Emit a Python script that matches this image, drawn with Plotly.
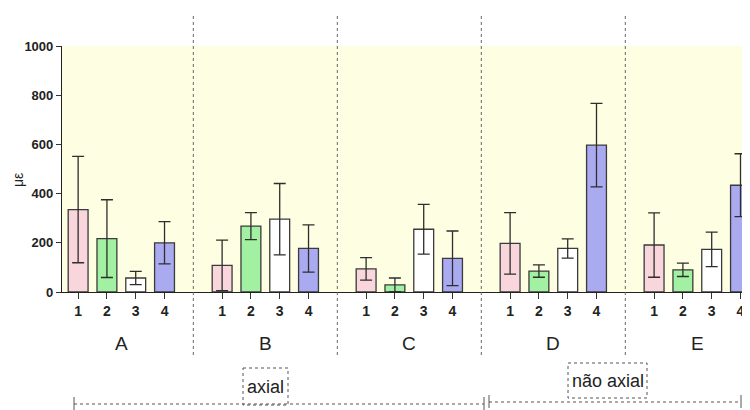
import plotly.graph_objects as go

groups = ["A", "B", "C", "D", "E"]
bar_labels = ["1", "2", "3", "4"]
# means per series (series 1..4), one value per group A..E
s1 = [335, 108, 94, 198, 191]
s2 = [217, 268, 29, 85, 90]
s3 = [57, 296, 255, 177, 173]
s4 = [200, 177, 137, 597, 434]
e1 = [216, 103, 46, 125, 131]
e2 = [158, 55, 28, 25, 27]
e3 = [27, 145, 101, 39, 70]
e4 = [86, 96, 111, 170, 128]
yticks = [0, 200, 400, 600, 800, 1000]
region_labels = ["axial", "não axial"]
y_title = "με"

series = [s1, s2, s3, s4]
errors = [e1, e2, e3, e4]
colors = ["#F8D6DC", "#A2F0A2", "#FFFFFF", "#AAAAF0"]

fig = go.Figure()
for j in range(4):
    xs = [g * 5 + j + 1 for g in range(len(groups))]
    fig.add_trace(go.Bar(
        x=xs, y=series[j], width=0.69,
        marker=dict(color=colors[j], line=dict(color="#3a3a3a", width=1.3)),
        error_y=dict(type="data", array=errors[j], visible=True,
                     color="#2e2e2e", thickness=1.3, width=6),
        showlegend=False,
    ))

tickvals = [g * 5 + j + 1 for g in range(len(groups)) for j in range(4)]
ticktext = [bar_labels[j] for g in range(len(groups)) for j in range(4)]

# page has an 8px body margin, so the figure is 742x402 placed at (8,8)
fig.update_layout(
    width=742, height=402,
    margin=dict(l=54, r=0, t=38, b=118),
    paper_bgcolor="white",
    plot_bgcolor="#FEFEE2",
    barmode="overlay",
    font=dict(family="Liberation Sans, Arial, sans-serif", color="#222"),
    xaxis=dict(
        range=[0.44, 24.33], tickvals=tickvals, ticktext=ticktext,
        ticks="outside", ticklen=6, tickcolor="#333", tickwidth=1,
        tickfont=dict(size=14, family="Liberation Sans, Arial", weight="bold", color="#222"),
        showline=True, linecolor="#222", linewidth=1.2,
        showgrid=False, zeroline=False,
    ),
    yaxis=dict(
        range=[0, 1000], tickvals=yticks,
        ticks="outside", ticklen=5, tickcolor="#333", tickwidth=1,
        tickfont=dict(size=13, family="Liberation Sans, Arial", weight="bold", color="#222"),
        showline=True, linecolor="#222", linewidth=1.2,
        showgrid=False, zeroline=False,
    ),
)

# helpers: page pixel -> paper coords (plot area spans page x 62..750, y 46..292)
def py(px):
    return (292 - px) / 246.0

def pxx(px):
    return (px - 62) / 688.0

fig.add_annotation(xref="paper", yref="paper", x=pxx(18), y=py(180), text=y_title,
                   xanchor="center", yanchor="middle",
                   textangle=-90, showarrow=False, font=dict(size=14, color="#222"))

# separators between groups
for g in range(1, len(groups)):
    fig.add_shape(type="line", xref="x", yref="paper", x0=g * 5, x1=g * 5,
                  y0=py(355), y1=py(14), line=dict(color="#666", width=1, dash="dot"))

# group letters
for g, name in enumerate(groups):
    fig.add_annotation(x=g * 5 + 2.5, xref="x", y=py(343), yref="paper",
                       xanchor="center", yanchor="middle",
                       text=name, showarrow=False, font=dict(size=19, color="#222"))

# brackets
def bracket(x0, x1, y):
    fig.add_shape(type="line", xref="paper", yref="paper", x0=pxx(x0), x1=pxx(x1),
                  y0=py(y), y1=py(y), line=dict(color="#555", width=1, dash="dot"))
    for xx in (x0, x1):
        fig.add_shape(type="line", xref="paper", yref="paper", x0=pxx(xx), x1=pxx(xx),
                      y0=py(y - 7), y1=py(y + 6), line=dict(color="#555", width=1))

bracket(74, 484, 404)
bracket(489, 741, 402)

# label boxes
boxes = [(243, 288, 368, 405), (568, 647, 363, 398)]
for (bx0, bx1, by0, by1), lab in zip(boxes, region_labels):
    fig.add_shape(type="rect", xref="paper", yref="paper",
                  x0=pxx(bx0), x1=pxx(bx1), y0=py(by0), y1=py(by1),
                  line=dict(color="#555", width=1, dash="dot"))
    fig.add_annotation(xref="paper", yref="paper", x=pxx((bx0 + bx1) / 2),
                       y=py((by0 + by1) / 2), text=lab, showarrow=False,
                       xanchor="center", yanchor="middle",
                       font=dict(size=18, color="#222"))

fig.write_html("out.html")
